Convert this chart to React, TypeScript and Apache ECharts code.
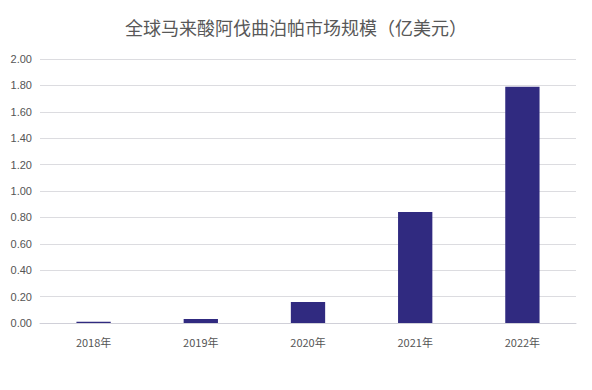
import React, { useEffect, useRef } from "react";
import * as echarts from "echarts";

const title = "全球马来酸阿伐曲泊帕市场规模（亿美元）";
const categories = ["2018年", "2019年", "2020年", "2021年", "2022年"];
const values = [0.01, 0.03, 0.16, 0.84, 1.79];

export default function App() {
  const ref = useRef<HTMLDivElement>(null);
  useEffect(() => {
    if (!ref.current) return;
    const chart = echarts.init(ref.current, undefined, { renderer: "svg" });
    chart.setOption({
      animation: false,
      backgroundColor: "#ffffff",
      title: {
        text: title,
        left: "center",
        top: 13,
        textStyle: {
          fontFamily: "Noto Sans CJK SC",
          fontSize: 18,
          fontWeight: "normal",
          color: "#585858",
        },
      },
      grid: { left: 40, right: 16, top: 59, bottom: 67 },
      xAxis: {
        type: "category",
        data: categories,
        axisLine: { lineStyle: { color: "#d0d0d8" } },
        axisTick: { show: false },
        axisLabel: {
          color: "#555555",
          fontSize: 11,
          margin: 13,
          fontFamily: "Noto Sans CJK SC",
        },
      },
      yAxis: {
        type: "value",
        min: 0,
        max: 2,
        interval: 0.2,
        axisLine: { show: false },
        axisTick: { show: false },
        splitLine: { lineStyle: { color: "#dcdce0" } },
        axisLabel: {
          color: "#555555",
          fontSize: 11,
          margin: 8,
          formatter: (v: number) => v.toFixed(2),
        },
      },
      series: [
        {
          type: "bar",
          data: values,
          barWidth: "32%",
          itemStyle: { color: "#302a80" },
        },
      ],
    });
    return () => chart.dispose();
  }, []);
  return <div ref={ref} style={{ width: 592, height: 390, position: "absolute", left: 0, top: 0 }} />;
}
